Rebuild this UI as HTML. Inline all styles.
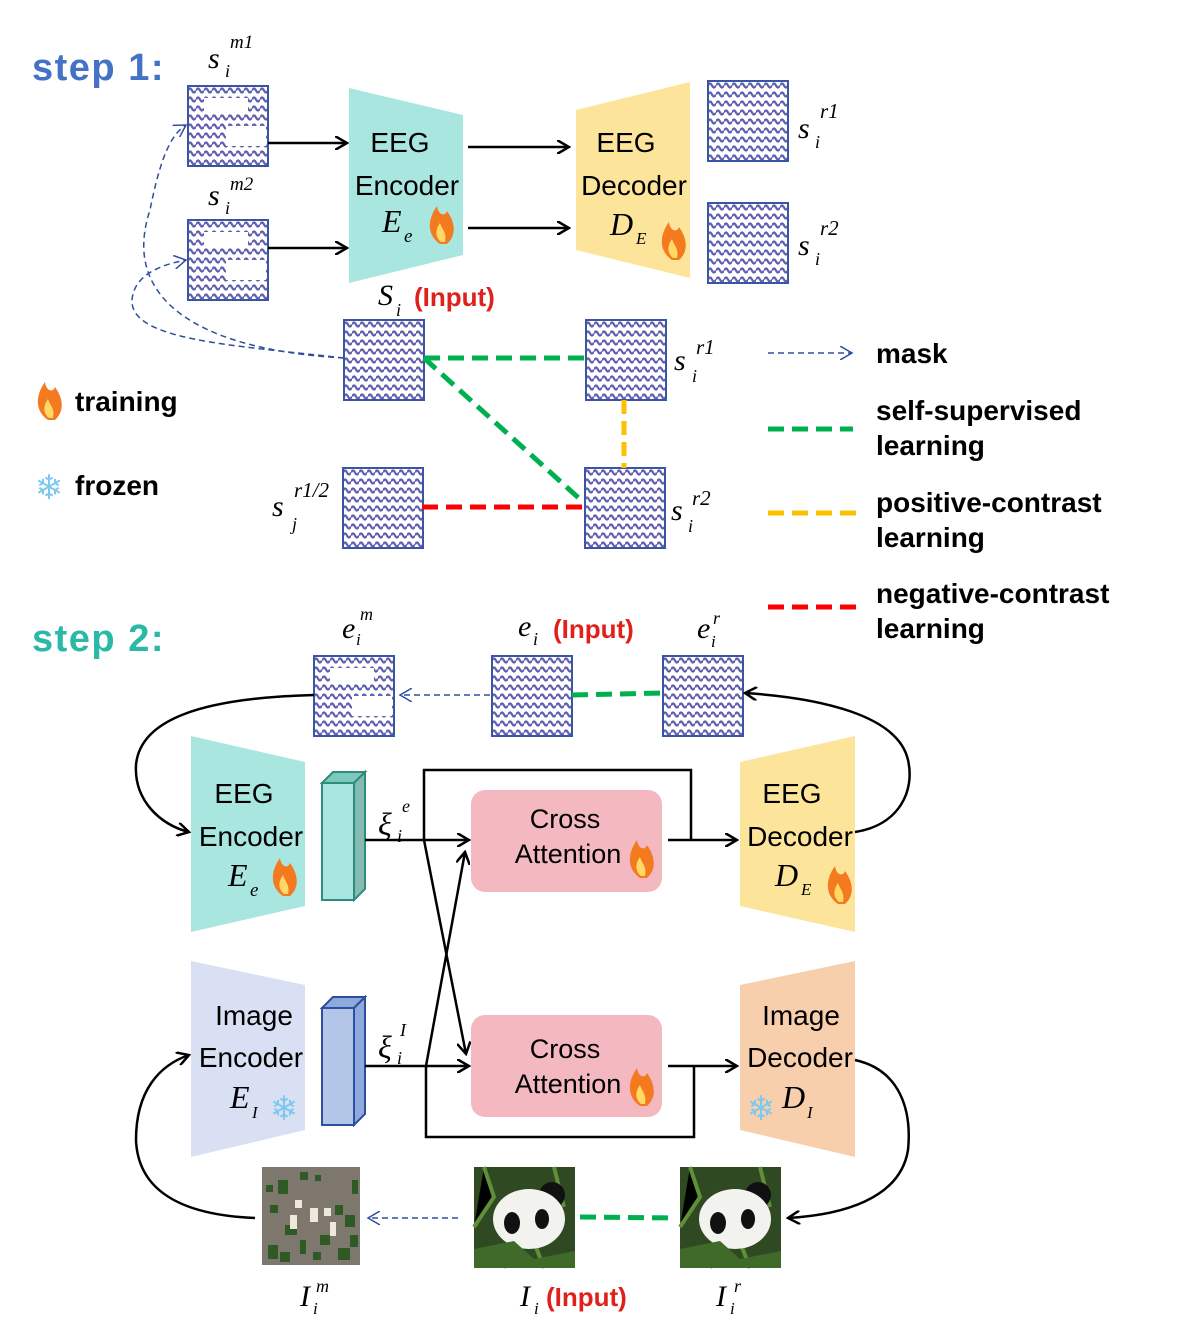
<!DOCTYPE html>
<html><head><meta charset="utf-8"><style>
html,body{margin:0;padding:0;background:#fff}
svg{display:block}
.s{font-family:"Liberation Sans",sans-serif}
.m{font-family:"Liberation Serif",serif;font-style:italic}
</style></head><body>
<svg width="1196" height="1337" viewBox="0 0 1196 1337" xmlns="http://www.w3.org/2000/svg">
<defs>
<pattern id="wv" width="8" height="9" patternUnits="userSpaceOnUse">
<rect width="8" height="9" fill="#fff"/>
<path d="M0 4.5 Q2 0.5 4 4.5 T8 4.5" fill="none" stroke="#6060b0" stroke-width="2.2"/>
</pattern>
<g id="tile"><rect x="0" y="0" width="80" height="80" fill="url(#wv)" stroke="#3b55a5" stroke-width="2"/></g>
<g id="tilem"><use href="#tile"/><rect x="16" y="12" width="44" height="16" fill="#fff"/><rect x="38" y="40" width="40" height="20" fill="#fff"/></g>
<g id="flame"><path d="M0 0 C-13 -9 -13 -24 -3 -38 C-2 -29 5 -27 7 -33 C15 -22 17 -9 7 0 Z" fill="#f47a1f"/><path d="M1 -2 C-5 -7 -5 -14 0 -21 C2 -14 7 -12 5 -2 Z" fill="#ffd966"/></g>
<g id="snow"><text class="s" x="0" y="0" font-size="34" fill="#7ec8f0" text-anchor="middle">❄</text></g>
<marker id="ab" markerWidth="14" markerHeight="14" refX="12" refY="7" orient="auto" markerUnits="userSpaceOnUse"><path d="M0 0 L12 7 L0 14" fill="none" stroke="#000" stroke-width="2.5"/></marker>
<marker id="ad" markerWidth="14" markerHeight="14" refX="12" refY="7" orient="auto" markerUnits="userSpaceOnUse"><path d="M0 0 L12 7 L0 14" fill="none" stroke="#2f4f9e" stroke-width="1.5"/></marker>
<g id="panda"><rect width="101" height="101" fill="#2f4a22"/><path d="M0 60 L20 30 L10 0 M80 0 L90 40 M30 101 L40 70 M70 101 L60 75" stroke="#5f8f3a" stroke-width="4"/><circle cx="78" cy="28" r="13" fill="#111"/><ellipse cx="55" cy="52" rx="36" ry="30" fill="#f2f2ee"/><ellipse cx="38" cy="56" rx="8" ry="11" fill="#111"/><ellipse cx="68" cy="52" rx="7" ry="10" fill="#111"/><path d="M0 82 L40 74 L60 92 L101 84 L101 101 L0 101Z" fill="#3f6a2a"/></g>
</defs>

<!-- STEP 1 -->
<text class="s" x="32" y="80" font-size="38" font-weight="bold" fill="#4472c4" letter-spacing="1.5">step 1:</text>
<text class="m" x="208" y="68" font-size="30">s</text><text class="m" x="225" y="77" font-size="18">i</text><text class="m" x="230" y="48" font-size="19">m1</text>
<use href="#tilem" x="188" y="86"/>
<text class="m" x="208" y="205" font-size="30">s</text><text class="m" x="225" y="214" font-size="18">i</text><text class="m" x="230" y="190" font-size="19">m2</text>
<use href="#tilem" x="188" y="220"/>
<line x1="268" y1="143" x2="347" y2="143" stroke="#000" stroke-width="2.5" marker-end="url(#ab)"/>
<line x1="268" y1="248" x2="347" y2="248" stroke="#000" stroke-width="2.5" marker-end="url(#ab)"/>
<polygon points="349,88 463,115 463,255 349,283" fill="#a8e6df"/>
<text class="s" x="400" y="152" font-size="28" text-anchor="middle">EEG</text>
<text class="s" x="407" y="195" font-size="28" text-anchor="middle">Encoder</text>
<text class="m" x="382" y="232" font-size="32">E</text><text class="m" x="404" y="242" font-size="19">e</text>
<use href="#flame" x="440" y="244"/>
<line x1="468" y1="147" x2="569" y2="147" stroke="#000" stroke-width="2.5" marker-end="url(#ab)"/>
<line x1="468" y1="228" x2="569" y2="228" stroke="#000" stroke-width="2.5" marker-end="url(#ab)"/>
<polygon points="576,110 690,82 690,278 576,250" fill="#fde49b"/>
<text class="s" x="626" y="152" font-size="28" text-anchor="middle">EEG</text>
<text class="s" x="634" y="195" font-size="28" text-anchor="middle">Decoder</text>
<text class="m" x="610" y="235" font-size="32">D</text><text class="m" x="636" y="244" font-size="17">E</text>
<use href="#flame" x="672" y="260"/>
<use href="#tile" x="708" y="81"/><use href="#tile" x="708" y="203"/>
<text class="m" x="798" y="138" font-size="30">s</text><text class="m" x="815" y="148" font-size="18">i</text><text class="m" x="820" y="118" font-size="21">r1</text>
<text class="m" x="798" y="255" font-size="30">s</text><text class="m" x="815" y="265" font-size="18">i</text><text class="m" x="820" y="235" font-size="21">r2</text>

<text class="m" x="378" y="305" font-size="30">S</text><text class="m" x="396" y="316" font-size="18">i</text>
<text class="s" x="414" y="306" font-size="26" font-weight="bold" fill="#e0201b">(Input)</text>
<use href="#tile" x="344" y="320"/>
<use href="#tile" x="586" y="320"/>
<text class="m" x="674" y="370" font-size="30">s</text><text class="m" x="692" y="382" font-size="18">i</text><text class="m" x="696" y="354" font-size="21">r1</text>
<use href="#tile" x="585" y="468"/>
<text class="m" x="671" y="520" font-size="30">s</text><text class="m" x="688" y="532" font-size="18">i</text><text class="m" x="692" y="505" font-size="21">r2</text>
<use href="#tile" x="343" y="468"/>
<text class="m" x="272" y="516" font-size="30">s</text><text class="m" x="292" y="530" font-size="18">j</text><text class="m" x="294" y="497" font-size="21">r1/2</text>
<line x1="424" y1="358" x2="586" y2="358" stroke="#00b050" stroke-width="5" stroke-dasharray="16,8"/>
<line x1="424" y1="358" x2="582" y2="501" stroke="#00b050" stroke-width="5" stroke-dasharray="16,8"/>
<line x1="624" y1="400" x2="624" y2="468" stroke="#ffc000" stroke-width="5" stroke-dasharray="14,7"/>
<line x1="422" y1="507" x2="585" y2="507" stroke="#ff0000" stroke-width="5" stroke-dasharray="16,8"/>
<path d="M344 358 C200 350 120 300 150 210 C160 160 170 135 186 125" fill="none" stroke="#2f4f9e" stroke-width="1.5" stroke-dasharray="6,4" marker-end="url(#ad)"/>
<path d="M344 358 C230 345 130 340 132 300 C134 275 160 265 186 260" fill="none" stroke="#2f4f9e" stroke-width="1.5" stroke-dasharray="6,4" marker-end="url(#ad)"/>

<use href="#flame" x="48" y="420"/>
<text class="s" x="75" y="411" font-size="28" font-weight="bold">training</text>
<use href="#snow" x="49" y="499"/>
<text class="s" x="75" y="495" font-size="28" font-weight="bold">frozen</text>

<line x1="768" y1="353" x2="852" y2="353" stroke="#2f4f9e" stroke-width="1.5" stroke-dasharray="6,4" marker-end="url(#ad)"/>
<text class="s" x="876" y="363" font-size="28" font-weight="bold">mask</text>
<line x1="768" y1="429" x2="853" y2="429" stroke="#00b050" stroke-width="5" stroke-dasharray="16,8"/>
<text class="s" x="876" y="420" font-size="28" font-weight="bold">self-supervised</text>
<text class="s" x="876" y="455" font-size="28" font-weight="bold">learning</text>
<line x1="768" y1="513" x2="858" y2="513" stroke="#ffc000" stroke-width="5" stroke-dasharray="16,8"/>
<text class="s" x="876" y="512" font-size="28" font-weight="bold">positive-contrast</text>
<text class="s" x="876" y="547" font-size="28" font-weight="bold">learning</text>
<line x1="768" y1="607" x2="858" y2="607" stroke="#ff0000" stroke-width="5" stroke-dasharray="16,8"/>
<text class="s" x="876" y="603" font-size="28" font-weight="bold">negative-contrast</text>
<text class="s" x="876" y="638" font-size="28" font-weight="bold">learning</text>

<!-- STEP 2 -->
<text class="s" x="32" y="651" font-size="38" font-weight="bold" fill="#2ab9a8" letter-spacing="1.5">step 2:</text>
<text class="m" x="342" y="638" font-size="30">e</text><text class="m" x="356" y="645" font-size="17">i</text><text class="m" x="360" y="620" font-size="18">m</text>
<text class="m" x="518" y="636" font-size="30">e</text><text class="m" x="533" y="645" font-size="18">i</text>
<text class="s" x="553" y="638" font-size="26" font-weight="bold" fill="#e0201b">(Input)</text>
<text class="m" x="697" y="638" font-size="30">e</text><text class="m" x="711" y="647" font-size="17">i</text><text class="m" x="713" y="624" font-size="18">r</text>
<use href="#tilem" x="314" y="656"/><use href="#tile" x="492" y="656"/><use href="#tile" x="663" y="656"/>
<line x1="490" y1="695" x2="400" y2="695" stroke="#2f4f9e" stroke-width="1.5" stroke-dasharray="6,4" marker-end="url(#ad)"/>
<line x1="572" y1="695" x2="663" y2="693" stroke="#00b050" stroke-width="5" stroke-dasharray="16,8"/>

<polygon points="191,736 305,762 305,906 191,932" fill="#a8e6df"/>
<text class="s" x="244" y="803" font-size="28" text-anchor="middle">EEG</text>
<text class="s" x="251" y="846" font-size="28" text-anchor="middle">Encoder</text>
<text class="m" x="228" y="886" font-size="32">E</text><text class="m" x="250" y="896" font-size="19">e</text>
<use href="#flame" x="283" y="896"/>
<polygon points="322,783 333,772 365,772 354,783" fill="#7cc8bc" stroke="#2e8c7c" stroke-width="2"/>
<polygon points="354,783 365,772 365,889 354,900" fill="#86bbb3" stroke="#2e8c7c" stroke-width="2"/>
<rect x="322" y="783" width="32" height="117" fill="#a8e6df" stroke="#2e8c7c" stroke-width="2"/>
<text class="m" x="378" y="835" font-size="32">ξ</text><text class="m" x="397" y="842" font-size="18">i</text><text class="m" x="402" y="812" font-size="18">e</text>

<polyline points="424,840 424,770 691,770 691,840" fill="none" stroke="#000" stroke-width="2.5"/>
<line x1="365" y1="840" x2="469" y2="840" stroke="#000" stroke-width="2.5" marker-end="url(#ab)"/>
<rect x="471" y="790" width="191" height="102" rx="14" fill="#f4b8c0"/>
<text class="s" x="565" y="828" font-size="27" text-anchor="middle">Cross</text>
<text class="s" x="568" y="863" font-size="27" text-anchor="middle">Attention</text>
<use href="#flame" x="640" y="878"/>
<line x1="668" y1="840" x2="737" y2="840" stroke="#000" stroke-width="2.5" marker-end="url(#ab)"/>
<polygon points="740,762 855,736 855,932 740,906" fill="#fde49b"/>
<text class="s" x="792" y="803" font-size="28" text-anchor="middle">EEG</text>
<text class="s" x="800" y="846" font-size="28" text-anchor="middle">Decoder</text>
<text class="m" x="775" y="886" font-size="32">D</text><text class="m" x="801" y="895" font-size="17">E</text>
<use href="#flame" x="838" y="904"/>

<line x1="424" y1="840" x2="466" y2="1054" stroke="#000" stroke-width="2.5" marker-end="url(#ab)"/>
<line x1="426" y1="1066" x2="465" y2="852" stroke="#000" stroke-width="2.5" marker-end="url(#ab)"/>

<polygon points="191,961 305,985 305,1130 191,1157" fill="#dae0f3"/>
<text class="s" x="254" y="1025" font-size="28" text-anchor="middle">Image</text>
<text class="s" x="251" y="1067" font-size="28" text-anchor="middle">Encoder</text>
<text class="m" x="230" y="1108" font-size="32">E</text><text class="m" x="252" y="1118" font-size="17">I</text>
<use href="#snow" x="284" y="1120"/>
<polygon points="322,1008 333,997 365,997 354,1008" fill="#8ea9db" stroke="#2f4f9e" stroke-width="2"/>
<polygon points="354,1008 365,997 365,1114 354,1125" fill="#8ea9db" stroke="#2f4f9e" stroke-width="2"/>
<rect x="322" y="1008" width="32" height="117" fill="#b4c6e7" stroke="#2f4f9e" stroke-width="2"/>
<text class="m" x="378" y="1058" font-size="32">ξ</text><text class="m" x="397" y="1064" font-size="18">i</text><text class="m" x="400" y="1036" font-size="18">I</text>

<polyline points="426,1066 426,1137 694,1137 694,1066" fill="none" stroke="#000" stroke-width="2.5"/>
<line x1="365" y1="1066" x2="469" y2="1066" stroke="#000" stroke-width="2.5" marker-end="url(#ab)"/>
<rect x="471" y="1015" width="191" height="102" rx="14" fill="#f4b8c0"/>
<text class="s" x="565" y="1058" font-size="27" text-anchor="middle">Cross</text>
<text class="s" x="568" y="1093" font-size="27" text-anchor="middle">Attention</text>
<use href="#flame" x="640" y="1106"/>
<line x1="668" y1="1066" x2="737" y2="1066" stroke="#000" stroke-width="2.5" marker-end="url(#ab)"/>
<polygon points="740,985 855,961 855,1157 740,1130" fill="#f8cfad"/>
<text class="s" x="801" y="1025" font-size="28" text-anchor="middle">Image</text>
<text class="s" x="800" y="1067" font-size="28" text-anchor="middle">Decoder</text>
<use href="#snow" x="761" y="1120"/>
<text class="m" x="782" y="1108" font-size="32">D</text><text class="m" x="807" y="1118" font-size="17">I</text>

<!-- loops -->
<path d="M314 695 C200 698 140 720 136 765 C134 800 160 825 189 832" fill="none" stroke="#000" stroke-width="2.5" marker-end="url(#ab)"/>
<path d="M855 832 C900 825 915 790 908 760 C898 715 820 698 745 693" fill="none" stroke="#000" stroke-width="2.5" marker-end="url(#ab)"/>
<path d="M255 1218 C180 1215 138 1190 136 1140 C136 1090 160 1065 189 1055" fill="none" stroke="#000" stroke-width="2.5" marker-end="url(#ab)"/>
<path d="M855 1060 C900 1070 912 1110 908 1150 C900 1200 840 1215 788 1218" fill="none" stroke="#000" stroke-width="2.5" marker-end="url(#ab)"/>

<!-- images -->
<rect x="262" y="1167" width="98" height="98" fill="#7d776d"/>
<g fill="#2f5a26"><rect x="266" y="1185" width="7" height="7"/><rect x="278" y="1180" width="10" height="14"/><rect x="300" y="1172" width="8" height="8"/><rect x="315" y="1175" width="6" height="6"/><rect x="352" y="1180" width="6" height="14"/><rect x="270" y="1205" width="8" height="8"/><rect x="335" y="1205" width="8" height="10"/><rect x="345" y="1215" width="10" height="12"/><rect x="285" y="1225" width="12" height="10"/><rect x="300" y="1240" width="6" height="14"/><rect x="320" y="1235" width="10" height="10"/><rect x="338" y="1248" width="12" height="12"/><rect x="268" y="1245" width="10" height="14"/><rect x="280" y="1252" width="10" height="10"/><rect x="313" y="1252" width="8" height="8"/><rect x="350" y="1235" width="8" height="12"/></g>
<g fill="#eee8d8"><rect x="295" y="1200" width="7" height="8"/><rect x="310" y="1208" width="8" height="14"/><rect x="324" y="1208" width="7" height="8"/><rect x="290" y="1215" width="7" height="14"/><rect x="330" y="1222" width="6" height="14"/></g>
<use href="#panda" x="474" y="1167"/>
<use href="#panda" x="680" y="1167"/>
<line x1="458" y1="1218" x2="368" y2="1218" stroke="#2f4f9e" stroke-width="1.5" stroke-dasharray="6,4" marker-end="url(#ad)"/>
<line x1="580" y1="1217" x2="676" y2="1218" stroke="#00b050" stroke-width="5" stroke-dasharray="16,8"/>
<text class="m" x="300" y="1306" font-size="30">I</text><text class="m" x="313" y="1314" font-size="17">i</text><text class="m" x="316" y="1292" font-size="18">m</text>
<text class="m" x="520" y="1306" font-size="30">I</text><text class="m" x="534" y="1314" font-size="17">i</text>
<text class="s" x="546" y="1306" font-size="26" font-weight="bold" fill="#e0201b">(Input)</text>
<text class="m" x="716" y="1306" font-size="30">I</text><text class="m" x="730" y="1314" font-size="17">i</text><text class="m" x="734" y="1292" font-size="18">r</text>
</svg>
</body></html>
